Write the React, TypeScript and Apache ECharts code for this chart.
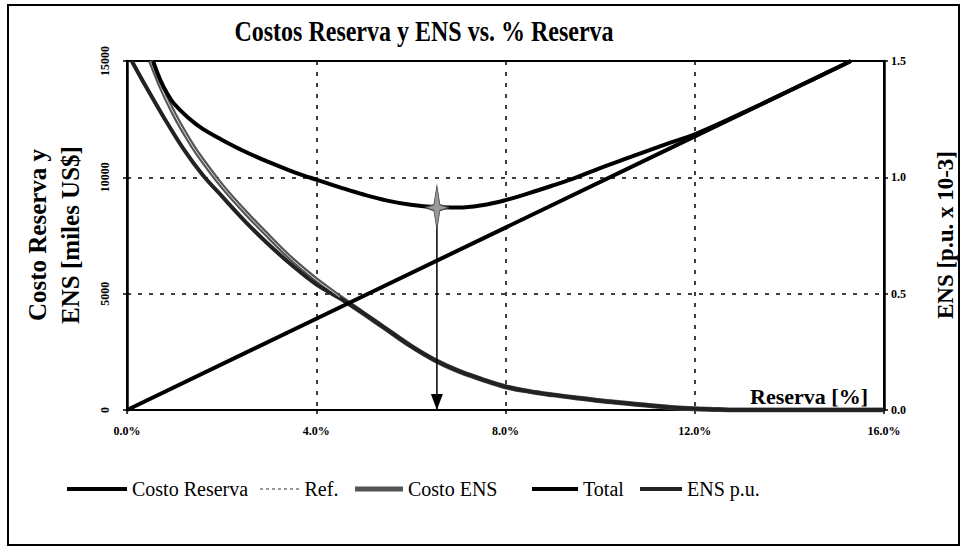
import React, { useEffect, useRef } from "react";
import * as echarts from "echarts";

// ---- data ----
const reservaX = [0, 4, 8, 12, 15.3];
const reservaY = [0, 3920, 7840, 11760, 15000];

const costoEnsX = [0.5, 0.75, 1.0, 1.25, 1.5, 2.0, 2.5, 3.0, 3.5, 4.0, 4.5, 5.0, 5.5, 6.0, 6.5, 7.0, 7.5, 8.0, 8.5, 9.0, 9.5, 10.0, 10.5, 11.0, 11.5, 12.0, 12.5, 13.0, 16.0];
const costoEnsY = [15000, 13750, 12700, 11800, 11000, 9650, 8500, 7450, 6450, 5600, 4850, 4150, 3450, 2750, 2150, 1680, 1320, 1000, 800, 650, 520, 400, 300, 200, 110, 50, 20, 0, 0];

const totalX = [0.55, 0.7, 0.85, 1.0, 1.3, 1.6, 2.0, 2.5, 3.0, 3.5, 4.0, 4.5, 5.0, 5.5, 6.0, 6.5, 7.0, 7.5, 8.0, 8.5, 9.0, 9.5, 10.0, 10.5, 11.0, 11.5, 12.0, 13.0, 14.0, 15.0, 15.3];
const totalY = [15000, 14200, 13600, 13150, 12550, 12080, 11620, 11100, 10650, 10250, 9900, 9570, 9260, 9000, 8820, 8720, 8700, 8800, 9020, 9320, 9650, 10000, 10400, 10770, 11140, 11500, 11850, 12760, 13720, 14700, 15000];

const ensPuX = [0.1, 0.4, 0.8, 1.2, 1.6, 2.0, 2.5, 3.0, 3.5, 4.0, 4.5, 5.0, 5.5, 6.0, 6.5, 7.0, 7.5, 8.0, 8.5, 9.0, 9.5, 10.0, 10.5, 11.0, 11.5, 12.0, 12.5, 13.0, 16.0];
const ensPuY = [1.5, 1.39, 1.25, 1.12, 1.01, 0.92, 0.81, 0.71, 0.62, 0.54, 0.48, 0.415, 0.345, 0.275, 0.215, 0.168, 0.132, 0.1, 0.08, 0.065, 0.052, 0.04, 0.03, 0.02, 0.011, 0.005, 0.002, 0, 0];

const refX = [6.55, 6.55];
const refY = [8700, 0];

const xTicks = [0, 4, 8, 12, 16];
const leftTicks = [0, 5000, 10000, 15000];
const rightTicks = [0, 0.5, 1.0, 1.5];

const seriesNames = ["Costo Reserva", "Ref.", "Costo ENS", "Total", "ENS p.u."];

const FONT = "'Liberation Serif', 'Times New Roman', serif";

const zip = (xs: number[], ys: number[]) => xs.map((x, i) => [x, ys[i]]);

const DOTS =
  "path://M0,0h3v2h-3zM6,0h3v2h-3zM12,0h3v2h-3zM18,0h3v2h-3zM24,0h3v2h-3zM30,0h3v2h-3zM36,0h3v2h-3z";

export default function App() {
  const ref = useRef<HTMLDivElement>(null);

  useEffect(() => {
    if (!ref.current) return;
    const chart = echarts.init(ref.current, undefined, { renderer: "svg" });

    const costoEnsData = zip(costoEnsX, costoEnsY);
    const refData = zip(refX, refY);

    const legendPos = [
      { left: 62, w: 60, h: 4, icon: "rect" },
      { left: 255, w: 40, h: 2, icon: DOTS },
      { left: 350, w: 48, h: 5, icon: "rect" },
      { left: 527, w: 46, h: 4, icon: "rect" },
      { left: 635, w: 42, h: 4, icon: "rect" },
    ];

    const legends = seriesNames.map((n, i) => ({
      left: legendPos[i].left,
      top: 474,
      itemWidth: legendPos[i].w,
      itemHeight: legendPos[i].h,
      itemGap: 0,
      selectedMode: false,
      textStyle: { fontFamily: FONT, fontSize: 20, color: "#000" },
      data: [
        n === "Ref."
          ? { name: n, icon: legendPos[i].icon, itemStyle: { color: "#999" } }
          : { name: n, icon: legendPos[i].icon },
      ],
    }));

    const option: any = {
      animation: false,
      backgroundColor: "#fff",
      legend: legends,
      grid: {
        left: 127,
        top: 61,
        width: 757,
        height: 349,
        show: true,
        borderColor: "#000",
        borderWidth: 2,
        backgroundColor: "transparent",
      },
      xAxis: {
        type: "value",
        min: xTicks[0],
        max: xTicks[xTicks.length - 1],
        interval: xTicks[1] - xTicks[0],
        axisLine: { show: true, lineStyle: { color: "#000", width: 2 } },
        axisTick: { show: true, length: 4, lineStyle: { color: "#000", width: 1.5 } },
        axisLabel: {
          margin: 15,
          fontFamily: FONT,
          fontWeight: "bold",
          fontSize: 12,
          color: "#000",
          formatter: (v: number) => v.toFixed(1) + "%",
        },
        splitLine: { show: true, lineStyle: { color: "#000", type: [4, 7], width: 1.5 } },
      },
      yAxis: [
        {
          type: "value",
          min: leftTicks[0],
          max: leftTicks[leftTicks.length - 1],
          interval: leftTicks[1] - leftTicks[0],
          axisLine: { show: true, lineStyle: { color: "#000", width: 2.5 } },
          axisTick: { show: true, length: 4, lineStyle: { color: "#000", width: 1.5 } },
          axisLabel: {
            rotate: 90,
            margin: 16,
            fontFamily: FONT,
            fontWeight: "bold",
            fontSize: 12,
            color: "#000",
            formatter: (v: number) => String(v),
          },
          splitLine: { show: true, lineStyle: { color: "#000", type: [4, 7], width: 1.5 } },
        },
        {
          type: "value",
          position: "right",
          min: rightTicks[0],
          max: rightTicks[rightTicks.length - 1],
          interval: rightTicks[1] - rightTicks[0],
          axisLine: { show: true, lineStyle: { color: "#000", width: 2.5 } },
          axisTick: { show: true, length: 4, lineStyle: { color: "#000", width: 1.5 } },
          axisLabel: {
            margin: 7,
            fontFamily: FONT,
            fontWeight: "bold",
            fontSize: 12,
            color: "#000",
            formatter: (v: number) => v.toFixed(1),
          },
          splitLine: { show: false },
        },
      ],
      series: [
        {
          name: "Costo Reserva",
          type: "line",
          data: zip(reservaX, reservaY),
          symbol: "none",
          lineStyle: { color: "#000", width: 4 },
          itemStyle: { color: "#000" },
          z: 4,
        },
        {
          name: "Ref.",
          type: "line",
          symbol: "none",
          data: [
            {
              value: refData[0],
              symbol: "path://M0,-22 L3,-3 L12,0 L3,3 L0,22 L-3,3 L-12,0 L-3,-3 Z",
              symbolSize: [24, 44],
              itemStyle: { color: "#999", borderColor: "#444", borderWidth: 1 },
            },
            {
              value: refData[1],
              symbol: "path://M0,0 L10,0 L5,14 Z",
              symbolSize: [12, 16],
              symbolOffset: [0, -8],
              itemStyle: { color: "#000" },
            },
          ],
          lineStyle: { color: "#000", width: 1.5 },
          itemStyle: { color: "#000" },
          z: 6,
        },
        {
          name: "Costo ENS",
          type: "line",
          data: costoEnsData,
          smooth: 0.35,
          symbol: "none",
          lineStyle: { color: "#555", width: 5 },
          itemStyle: { color: "#555" },
          z: 3,
        },
        {
          type: "line",
          data: costoEnsData.filter((p) => p[0] <= 4.6),
          smooth: 0.35,
          symbol: "none",
          silent: true,
          lineStyle: { color: "#ddd", width: 1 },
          z: 3.5,
        },
        {
          name: "Total",
          type: "line",
          data: zip(totalX, totalY),
          smooth: 0.4,
          symbol: "none",
          lineStyle: { color: "#000", width: 4 },
          itemStyle: { color: "#000" },
          z: 5,
        },
        {
          name: "ENS p.u.",
          type: "line",
          yAxisIndex: 1,
          data: zip(ensPuX, ensPuY),
          smooth: 0.35,
          symbol: "none",
          lineStyle: { color: "#222", width: 4 },
          itemStyle: { color: "#222" },
          z: 3,
        },
      ],
      graphic: [
        {
          type: "rect",
          shape: { x: 8, y: 5, width: 951, height: 540 },
          style: { fill: "none", stroke: "#000", lineWidth: 2 },
          silent: true,
        },
        {
          type: "text",
          x: 424,
          y: 31,
          scaleY: 1.25,
          style: {
            text: "Costos Reserva y ENS vs. % Reserva",
            font: `bold 24px ${FONT}`,
            fill: "#000",
            align: "center",
            verticalAlign: "middle",
          },
        },
        {
          type: "text",
          x: 37,
          y: 235,
          rotation: Math.PI / 2,
          style: {
            text: "Costo Reserva y",
            font: `bold 25px ${FONT}`,
            fill: "#000",
            align: "center",
            verticalAlign: "middle",
          },
        },
        {
          type: "text",
          x: 70,
          y: 235,
          rotation: Math.PI / 2,
          style: {
            text: "ENS [miles US$]",
            font: `bold 25px ${FONT}`,
            fill: "#000",
            align: "center",
            verticalAlign: "middle",
          },
        },
        {
          type: "text",
          x: 945,
          y: 235,
          rotation: Math.PI / 2,
          style: {
            text: "ENS [p.u. x 10-3]",
            font: `bold 23px ${FONT}`,
            fill: "#000",
            align: "center",
            verticalAlign: "middle",
          },
        },
        {
          type: "text",
          x: 868,
          y: 396,
          style: {
            text: "Reserva [%]",
            font: `bold 22px ${FONT}`,
            fill: "#000",
            align: "right",
            verticalAlign: "middle",
          },
        },
      ],
    };

    chart.setOption(option);
    return () => chart.dispose();
  }, []);

  return (
    <div
      ref={ref}
      style={{ position: "absolute", left: 0, top: 0, width: 966, height: 551 }}
    />
  );
}
